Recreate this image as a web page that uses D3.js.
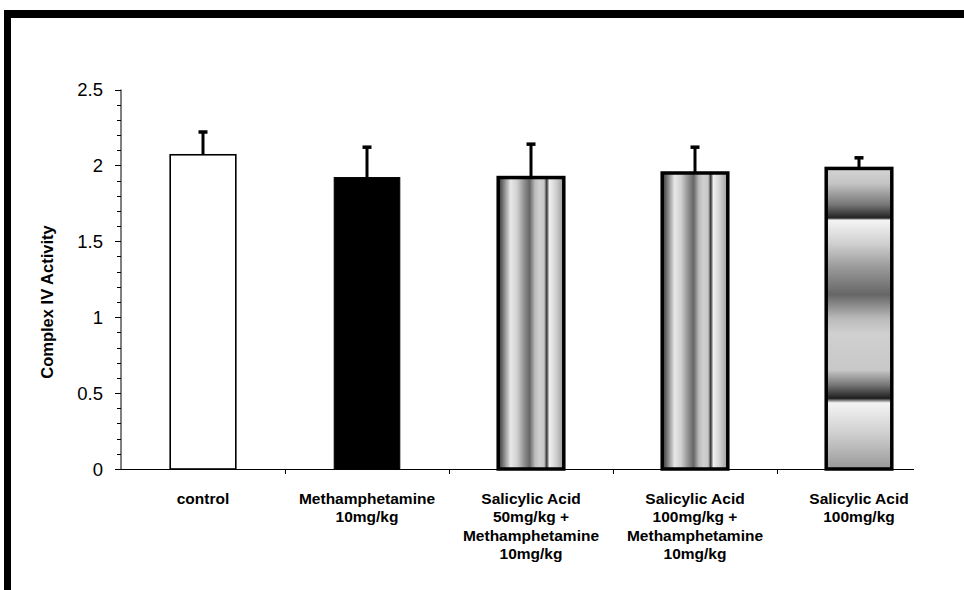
<!DOCTYPE html>
<html>
<head>
<meta charset="utf-8">
<script src="https://cdn.jsdelivr.net/npm/d3@7"></script>
<style>
  html, body { margin: 0; padding: 0; background: #fff; }
  svg { display: block; }
  text { font-family: "Liberation Sans", Arial, sans-serif; fill: #000; }
</style>
</head>
<body>
<svg id="chart" width="964" height="590"></svg>
<script>
// Complex IV activity by treatment group (mean + SEM)
const categories = [
  ["control"],
  ["Methamphetamine", "10mg/kg"],
  ["Salicylic Acid", "50mg/kg +", "Methamphetamine", "10mg/kg"],
  ["Salicylic Acid", "100mg/kg +", "Methamphetamine", "10mg/kg"],
  ["Salicylic Acid", "100mg/kg"]
];
const means  = [2.07, 1.92, 1.92, 1.95, 1.98];
const errors = [0.15, 0.20, 0.22, 0.17, 0.07];
const yTicks = [0, 0.5, 1, 1.5, 2, 2.5];
const yMinorTicks = d3.range(0, 2.51, 0.1);
const yTitle = "Complex IV Activity";

const svg = d3.select("#chart");

// fill patterns
const defs = svg.append("defs");
const stripeStops = [
  [0.00, "#444"], [0.04, "#555"], [0.11, "#999"], [0.19, "#e8e8e8"],
  [0.29, "#cfcfcf"], [0.41, "#888"], [0.48, "#666"], [0.56, "#bbb"],
  [0.63, "#d0d0d0"], [0.70, "#c8c8c8"], [0.74, "#333"], [0.78, "#f0f0f0"],
  [0.88, "#d0d0d0"], [1.00, "#999"]
];
const bandStops = [
  [0.00, "#d4d4d4"], [0.05, "#c4c4c4"], [0.12, "#777"], [0.165, "#222"],
  [0.172, "#f4f4f4"], [0.25, "#d0d0d0"], [0.33, "#999"], [0.42, "#666"],
  [0.50, "#bbb"], [0.55, "#d0d0d0"], [0.67, "#c8c8c8"], [0.72, "#777"],
  [0.765, "#1e1e1e"], [0.78, "#f4f4f4"], [0.88, "#d0d0d0"], [1.00, "#999"]
];
function gradient(id, stops, vertical) {
  const g = defs.append("linearGradient").attr("id", id)
    .attr("x1", 0).attr("y1", 0)
    .attr("x2", vertical ? 0 : 1).attr("y2", vertical ? 1 : 0);
  g.selectAll("stop").data(stops).join("stop")
    .attr("offset", d => d[0]).attr("stop-color", d => d[1]);
}
gradient("stripeH", stripeStops, false);
gradient("bandV", bandStops, true);

const fills   = ["#ffffff", "#000000", "url(#stripeH)", "url(#stripeH)", "url(#bandV)"];
const strokeW = [1.6, 1, 3.5, 3.5, 3.5];

// frame lines
svg.append("rect").attr("x", 4).attr("y", 10).attr("width", 960).attr("height", 8).attr("fill", "#000");
svg.append("rect").attr("x", 4).attr("y", 10).attr("width", 7).attr("height", 580).attr("fill", "#000");

const x = d3.scaleBand().domain(d3.range(categories.length))
  .range([121, 941]).paddingInner(0.6).paddingOuter(0.3);
const y = d3.scaleLinear().domain([0, 2.5]).range([469, 89.5]);

// y axis
const yAxis = svg.append("g").attr("transform", "translate(121,0)");
yAxis.append("line").attr("y1", y(2.5)).attr("y2", y(0)).attr("stroke", "#000").attr("stroke-width", 1);
yAxis.selectAll("line.minor").data(yMinorTicks).join("line").attr("class", "minor")
  .attr("x1", -4).attr("x2", 0).attr("y1", d => Math.round(y(d)) + 0.5).attr("y2", d => Math.round(y(d)) + 0.5)
  .attr("stroke", "#000").attr("stroke-width", 1);
yAxis.selectAll("line.major").data(yTicks).join("line").attr("class", "major")
  .attr("x1", -6).attr("x2", 0).attr("y1", d => Math.round(y(d)) + 0.5).attr("y2", d => Math.round(y(d)) + 0.5)
  .attr("stroke", "#000").attr("stroke-width", 1);
yAxis.selectAll("text").data(yTicks).join("text")
  .attr("x", -18).attr("y", d => y(d)).attr("dy", "0.36em")
  .attr("text-anchor", "end").style("font-size", "18.5px")
  .text(d => d3.format("")(d));

svg.append("text")
  .attr("transform", "translate(53,302) rotate(-90)")
  .attr("text-anchor", "middle")
  .style("font-size", "16.5px").style("font-weight", "bold")
  .text(yTitle);

// bars
const bars = svg.append("g");
bars.selectAll("rect").data(means).join("rect")
  .attr("x", (d, i) => x(i)).attr("width", x.bandwidth())
  .attr("y", d => y(d)).attr("height", d => y(0) - y(d))
  .attr("fill", (d, i) => fills[i]).attr("stroke", "#000")
  .attr("stroke-width", (d, i) => strokeW[i]);

// error bars (upper only)
const err = svg.append("g").attr("stroke", "#000");
err.selectAll("line.stem").data(means).join("line").attr("class", "stem")
  .attr("x1", (d, i) => x(i) + x.bandwidth() / 2).attr("x2", (d, i) => x(i) + x.bandwidth() / 2)
  .attr("y1", d => y(d)).attr("y2", (d, i) => y(d + errors[i]))
  .attr("stroke-width", 3);
err.selectAll("line.cap").data(means).join("line").attr("class", "cap")
  .attr("x1", (d, i) => x(i) + x.bandwidth() / 2 - 4.5).attr("x2", (d, i) => x(i) + x.bandwidth() / 2 + 4.5)
  .attr("y1", (d, i) => y(d + errors[i])).attr("y2", (d, i) => y(d + errors[i]))
  .attr("stroke-width", 3.5);

// x axis
const xAxis = svg.append("g");
xAxis.append("line").attr("x1", 121).attr("x2", 914).attr("y1", y(0) + 0.5).attr("y2", y(0) + 0.5)
  .attr("stroke", "#000").attr("stroke-width", 1);
const boundaries = d3.range(1, categories.length).map(i => x(i) - x.step() * x.paddingInner() / 2);
xAxis.selectAll("line.tick").data(boundaries).join("line").attr("class", "tick")
  .attr("x1", d => Math.round(d) + 0.5).attr("x2", d => Math.round(d) + 0.5)
  .attr("y1", y(0)).attr("y2", y(0) + 5).attr("stroke", "#000");

const labels = xAxis.selectAll("text").data(categories).join("text")
  .attr("text-anchor", "middle")
  .style("font-size", "15.5px").style("font-weight", "bold");
labels.selectAll("tspan").data((d, i) => d.map(t => ({ t, i }))).join("tspan")
  .attr("x", d => x(d.i) + x.bandwidth() / 2)
  .attr("y", (d, j) => 503.5 + j * 18.5)
  .text(d => d.t);
</script>
</body>
</html>
